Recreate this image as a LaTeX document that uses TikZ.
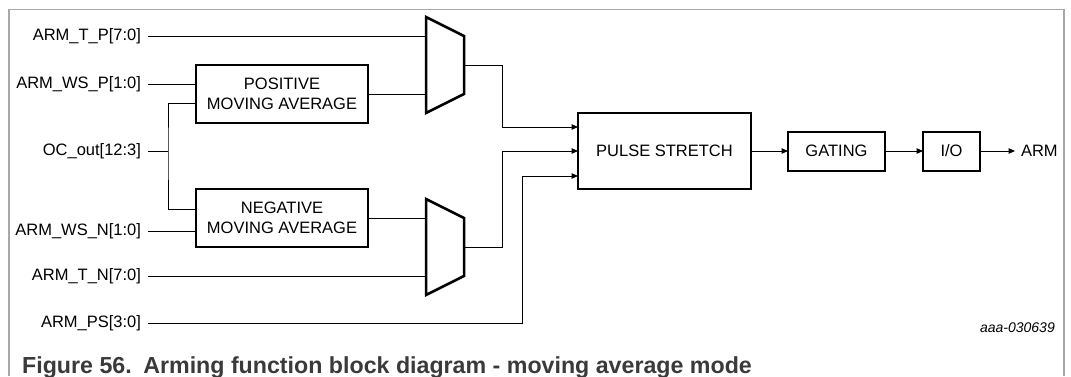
\documentclass[tikz,border=0pt]{standalone}
\usepackage{fontspec}
\setmainfont{Liberation Sans}
\usetikzlibrary{arrows.meta}
\definecolor{framegray}{HTML}{A8A8A8}
\definecolor{capgray}{HTML}{3A3A3A}
\begin{document}
\begin{tikzpicture}[x=1pt,y=-1pt,
  lbl/.style={font=\fontsize{16.5}{20}\selectfont, inner sep=0pt, outer sep=0pt},
  blk/.style={draw, line width=2pt, font=\fontsize{16.5}{19.5}\selectfont, align=center, inner sep=0pt, outer sep=0pt},
  wire/.style={line width=1pt},
  arr/.style={wire, -{Triangle[length=6.5pt,width=5.5pt]}},
  muxshape/.style={draw, line width=2.5pt, line join=miter}]
\useasboundingbox (0,0) rectangle (1071,376);
% frame
\draw[framegray, line width=1.3pt] (9,376) -- (9,9.5) -- (1064,9.5) -- (1064,376);
% input labels
\node[lbl,anchor=east] (tp) at (141,36) {ARM\_T\_P[7:0]};
\node[lbl,anchor=east] (wsp) at (141,84) {ARM\_WS\_P[1:0]};
\node[lbl,anchor=east] (oc) at (141,151) {OC\_out[12:3]};
\node[lbl,anchor=east] (wsn) at (141,231) {ARM\_WS\_N[1:0]};
\node[lbl,anchor=east] (tn) at (141,276) {ARM\_T\_N[7:0]};
\node[lbl,anchor=east] (psl) at (141,323) {ARM\_PS[3:0]};
% blocks
\node[blk, minimum width=172pt, minimum height=58pt] (pos) at (282,94) {POSITIVE\\MOVING AVERAGE};
\node[blk, minimum width=172pt, minimum height=58pt] (neg) at (282,218) {NEGATIVE\\MOVING AVERAGE};
\node[blk, minimum width=173pt, minimum height=76pt] (ps) at (664.5,151) {PULSE STRETCH};
\node[blk, minimum width=97pt, minimum height=39pt] (gate) at (836.5,151) {GATING};
\node[blk, minimum width=57pt, minimum height=39pt] (io) at (951.5,151) {I/O};
\node[lbl,anchor=west] (arm) at (1021,151) {ARM};
% muxes
\draw[muxshape] (426,17) -- (464,36) -- (464,94) -- (426,113) -- cycle;
\coordinate (mPa) at (426,36);
\coordinate (mPb) at (426,94);
\coordinate (mPo) at (464,65);
\draw[muxshape] (426,199) -- (464,218) -- (464,276) -- (426,295) -- cycle;
\coordinate (mNa) at (426,218);
\coordinate (mNb) at (426,276);
\coordinate (mNo) at (464,247);
% wires
\draw[wire] ([xshift=7pt]tp.east) -- (mPa);
\draw[wire] ([xshift=7pt]wsp.east) -- (pos.west |- wsp.east);
\draw[wire] ([xshift=7pt]oc.east) -- (168,151);
\draw[wire] ([yshift=-9pt]pos.west) -| (168,151) |- ([yshift=9pt]neg.west);
\draw[wire] ([xshift=7pt]wsn.east) -- (neg.west |- wsn.east);
\draw[wire] ([xshift=7pt]tn.east) -- (mNb);
\draw[wire] (pos.east) -- (mPb);
\draw[wire] (neg.east) -- (mNa);
\draw[arr] (mPo) -- (502,65) |- ([yshift=24pt]ps.west);
\draw[arr] (mNo) -- (502,247) |- (ps.west);
\draw[arr] ([xshift=7pt]psl.east) -- (522,323) |- ([yshift=-25pt]ps.west);
\draw[arr] (ps.east) -- (gate.west);
\draw[arr] (gate.east) -- (io.west);
\draw[arr] (io.east) -- ([xshift=-6pt]arm.west);
% id and caption
\node[anchor=base east, inner sep=0pt, font=\itshape\fontsize{14}{16}\selectfont] (id) at (1055,332) {aaa-030639};
\node[anchor=base west, inner sep=0pt, text=capgray, font=\bfseries\fontsize{23.2}{26}\selectfont] (cap) at (22,373) {Figure 56.\hspace{0.5em}Arming function block diagram - moving average mode};
\end{tikzpicture}
\end{document}
